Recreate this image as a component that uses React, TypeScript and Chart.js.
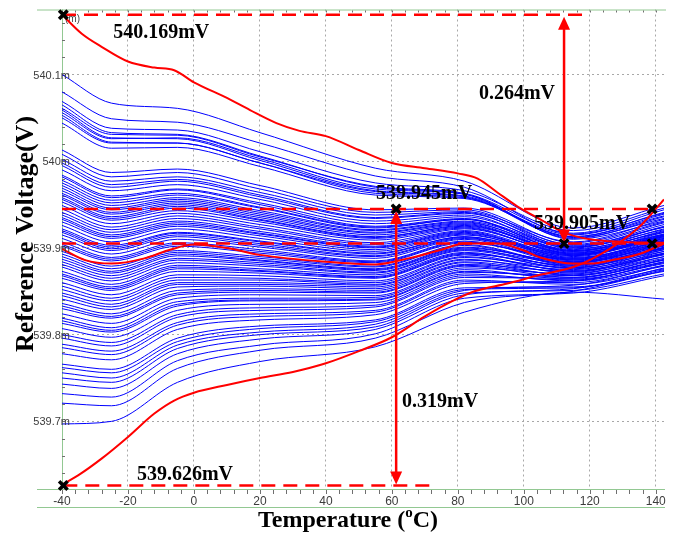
import React, { useEffect, useRef } from 'react';
import { Chart, registerables } from 'chart.js';
Chart.register(...registerables);

// Temperatures at which the Monte-Carlo (blue) curves were read
const TEMPS = [-40, -25, -5, 20, 55, 82, 115, 142.5];

// Blue Monte-Carlo curves, values in mV
const BLUE_CURVES: number[][] = [
  [540.100, 540.067, 540.061, 540.033, 539.992, 539.977, 539.923, 539.949],
  [540.080, 540.049, 540.045, 540.021, 539.983, 539.970, 539.916, 539.940],
  [540.069, 540.038, 540.036, 540.011, 539.975, 539.966, 539.920, 539.946],
  [540.065, 540.033, 540.031, 540.006, 539.970, 539.962, 539.912, 539.934],
  [540.061, 540.031, 540.030, 540.005, 539.971, 539.963, 539.917, 539.944],
  [540.059, 540.027, 540.026, 540.001, 539.966, 539.960, 539.913, 539.937],
  [540.056, 540.026, 540.027, 540.003, 539.968, 539.962, 539.910, 539.931],
  [540.053, 540.022, 540.021, 539.998, 539.963, 539.958, 539.915, 539.941],
  [540.050, 540.021, 540.021, 539.998, 539.965, 539.959, 539.911, 539.936],
  [540.044, 540.015, 540.016, 539.994, 539.961, 539.957, 539.913, 539.939],
  [540.013, 539.987, 539.991, 539.972, 539.944, 539.946, 539.906, 539.930],
  [540.008, 539.982, 539.987, 539.968, 539.941, 539.944, 539.903, 539.924],
  [540.002, 539.977, 539.982, 539.964, 539.938, 539.942, 539.907, 539.933],
  [539.998, 539.973, 539.979, 539.961, 539.935, 539.941, 539.901, 539.921],
  [539.995, 539.970, 539.977, 539.959, 539.934, 539.940, 539.904, 539.929],
  [539.990, 539.966, 539.973, 539.956, 539.931, 539.938, 539.899, 539.918],
  [539.984, 539.960, 539.968, 539.952, 539.928, 539.936, 539.902, 539.927],
  [539.982, 539.958, 539.967, 539.950, 539.925, 539.934, 539.896, 539.916],
  [539.978, 539.955, 539.963, 539.947, 539.924, 539.933, 539.897, 539.915],
  [539.975, 539.952, 539.961, 539.946, 539.923, 539.933, 539.901, 539.924],
  [539.972, 539.949, 539.958, 539.943, 539.921, 539.931, 539.900, 539.925],
  [539.969, 539.946, 539.956, 539.941, 539.920, 539.930, 539.895, 539.913],
  [539.966, 539.944, 539.954, 539.939, 539.918, 539.929, 539.898, 539.922],
  [539.963, 539.941, 539.952, 539.937, 539.917, 539.928, 539.894, 539.914],
  [539.961, 539.939, 539.950, 539.935, 539.915, 539.927, 539.893, 539.911],
  [539.958, 539.936, 539.948, 539.933, 539.913, 539.925, 539.897, 539.919],
  [539.956, 539.934, 539.946, 539.932, 539.912, 539.926, 539.896, 539.920],
  [539.953, 539.932, 539.943, 539.930, 539.911, 539.924, 539.892, 539.910],
  [539.949, 539.928, 539.940, 539.927, 539.909, 539.923, 539.893, 539.912],
  [539.945, 539.924, 539.937, 539.924, 539.906, 539.922, 539.894, 539.918],
  [539.941, 539.921, 539.934, 539.922, 539.904, 539.920, 539.891, 539.915],
  [539.938, 539.918, 539.931, 539.919, 539.902, 539.919, 539.889, 539.908],
  [539.935, 539.915, 539.929, 539.917, 539.901, 539.918, 539.888, 539.909],
  [539.933, 539.913, 539.927, 539.916, 539.900, 539.917, 539.892, 539.916],
  [539.930, 539.911, 539.925, 539.914, 539.898, 539.916, 539.887, 539.906],
  [539.926, 539.907, 539.922, 539.911, 539.896, 539.915, 539.891, 539.914],
  [539.922, 539.903, 539.918, 539.908, 539.894, 539.913, 539.890, 539.913],
  [539.920, 539.901, 539.917, 539.907, 539.893, 539.913, 539.886, 539.905],
  [539.918, 539.899, 539.915, 539.905, 539.891, 539.912, 539.885, 539.903],
  [539.915, 539.897, 539.913, 539.903, 539.890, 539.911, 539.888, 539.911],
  [539.911, 539.893, 539.910, 539.901, 539.888, 539.910, 539.884, 539.902],
  [539.907, 539.889, 539.906, 539.898, 539.885, 539.908, 539.883, 539.900],
  [539.904, 539.887, 539.904, 539.896, 539.884, 539.907, 539.886, 539.908],
  [539.902, 539.885, 539.902, 539.894, 539.883, 539.906, 539.887, 539.909],
  [539.896, 539.879, 539.897, 539.890, 539.879, 539.904, 539.881, 539.900],
  [539.893, 539.876, 539.895, 539.888, 539.878, 539.903, 539.880, 539.899],
  [539.890, 539.873, 539.893, 539.886, 539.876, 539.901, 539.883, 539.905],
  [539.887, 539.871, 539.891, 539.885, 539.875, 539.900, 539.884, 539.907],
  [539.884, 539.868, 539.888, 539.883, 539.874, 539.899, 539.878, 539.896],
  [539.881, 539.865, 539.886, 539.881, 539.872, 539.898, 539.882, 539.905],
  [539.878, 539.862, 539.883, 539.879, 539.871, 539.897, 539.879, 539.898],
  [539.873, 539.858, 539.880, 539.876, 539.869, 539.895, 539.876, 539.894],
  [539.870, 539.855, 539.878, 539.874, 539.867, 539.894, 539.877, 539.900],
  [539.868, 539.853, 539.876, 539.873, 539.866, 539.893, 539.880, 539.903],
  [539.865, 539.851, 539.873, 539.871, 539.865, 539.892, 539.873, 539.892],
  [539.860, 539.846, 539.869, 539.868, 539.862, 539.890, 539.874, 539.893],
  [539.856, 539.842, 539.866, 539.865, 539.860, 539.889, 539.877, 539.901],
  [539.852, 539.839, 539.863, 539.863, 539.858, 539.887, 539.871, 539.890],
  [539.848, 539.835, 539.860, 539.860, 539.857, 539.886, 539.875, 539.898],
  [539.845, 539.832, 539.858, 539.858, 539.855, 539.884, 539.872, 539.894],
  [539.841, 539.829, 539.855, 539.856, 539.853, 539.883, 539.868, 539.886],
  [539.836, 539.824, 539.851, 539.853, 539.851, 539.881, 539.873, 539.896],
  [539.833, 539.821, 539.848, 539.851, 539.849, 539.880, 539.869, 539.888],
  [539.830, 539.819, 539.846, 539.849, 539.848, 539.879, 539.866, 539.884],
  [539.824, 539.813, 539.842, 539.846, 539.845, 539.877, 539.870, 539.893],
  [539.819, 539.808, 539.838, 539.842, 539.843, 539.875, 539.864, 539.882],
  [539.816, 539.805, 539.835, 539.840, 539.841, 539.873, 539.866, 539.886],
  [539.813, 539.803, 539.833, 539.839, 539.840, 539.872, 539.868, 539.890],
  [539.807, 539.797, 539.828, 539.835, 539.837, 539.870, 539.862, 539.880],
  [539.800, 539.791, 539.823, 539.831, 539.834, 539.868, 539.863, 539.883],
  [539.796, 539.787, 539.820, 539.828, 539.832, 539.866, 539.865, 539.887],
  [539.789, 539.781, 539.814, 539.824, 539.828, 539.863, 539.858, 539.876],
  [539.785, 539.777, 539.811, 539.821, 539.826, 539.861, 539.860, 539.879],
  [539.778, 539.771, 539.806, 539.817, 539.823, 539.859, 539.862, 539.884],
  [539.766, 539.760, 539.796, 539.810, 539.817, 539.854, 539.855, 539.873],
  [539.762, 539.756, 539.792, 539.807, 539.815, 539.852, 539.854, 539.875],
  [539.756, 539.750, 539.788, 539.803, 539.812, 539.851, 539.857, 539.880],
  [539.750, 539.745, 539.784, 539.800, 539.809, 539.848, 539.851, 539.870],
  [539.743, 539.738, 539.778, 539.795, 539.806, 539.846, 539.853, 539.877],
  [539.732, 539.728, 539.770, 539.788, 539.801, 539.842, 539.848, 539.868],
  [539.721, 539.718, 539.761, 539.782, 539.796, 539.837, 539.850, 539.874],
  [539.697, 539.700, 539.745, 539.769, 539.786, 539.826, 539.849, 539.841],
];

// Red worst-case / typical curves
const MAX_T = [-40, -34, -28, -20, -12, -6, 0, 10, 17, 25, 32, 40, 50, 60, 70, 80, 86, 92, 98, 105, 112, 120, 130, 142.5];
const MAX_V = [540.169, 540.147, 540.132, 540.115, 540.108, 540.105, 540.091, 540.073, 540.059, 540.044, 540.035, 540.029, 540.013, 539.998, 539.992, 539.986, 539.980, 539.964, 539.948, 539.933, 539.918, 539.910, 539.907, 539.906];
const TYP_T = [-40, -33, -25, -15, -8, 0, 10, 20, 40, 55, 65, 75, 82, 92, 100, 105, 115, 120, 128, 135, 142.5];
const TYP_V = [539.899, 539.886, 539.882, 539.888, 539.897, 539.904, 539.900, 539.892, 539.884, 539.881, 539.888, 539.898, 539.905, 539.905, 539.897, 539.889, 539.882, 539.882, 539.887, 539.893, 539.905];
const MIN_T = [-40, -35, -28, -20, -12, -6, 0, 10, 20, 30, 40, 50, 60, 70, 78, 85, 95, 105, 115, 122, 130, 136, 142.5];
const MIN_V = [539.627, 539.638, 539.657, 539.682, 539.709, 539.724, 539.733, 539.742, 539.750, 539.757, 539.767, 539.781, 539.797, 539.821, 539.838, 539.850, 539.859, 539.869, 539.878, 539.890, 539.909, 539.928, 539.956];

// Axis ticks
const X_TICKS = [-40, -20, 0, 20, 40, 60, 80, 100, 120, 140];
const X_LABELS = ['-40', '-20', '0', '20', '40', '60', '80', '100', '120', '140'];
const Y_TICKS = [539.7, 539.8, 539.9, 540.0, 540.1];
const Y_LABELS = ['539.7m', '539.8m', '539.9m', '540m', '540.1m'];

// Annotation levels (dashed lines)
const LEVEL_V = [540.169, 539.945, 539.905, 539.626];
const LEVEL_FROM = [-40, -40, -40, -39.6];
const LEVEL_TO = [120, 139, 142.5, 71.6];

// Cross markers
const MARK_T = [-39.6, -39.6, 61.3, 112.2, 138.9, 138.9];
const MARK_V = [540.169, 539.626, 539.945, 539.905, 539.945, 539.905];

// Double arrows
const ARROW_T = [112.2, 61.3];
const ARROW_TOP = [540.169, 539.945];
const ARROW_BOTTOM = [539.905, 539.626];

// Text labels
const LABEL_TEXT = ['540.169mV', '539.626mV', '539.945mV', '539.905mV', '0.264mV', '0.319mV'];
const LABEL_T = [-24.5, -17.3, 55.2, 103.1, 86.4, 63.1];
const LABEL_V = [540.142, 539.632, 539.956, 539.922, 540.072, 539.716];

const GREEN = '#92c892';
const SERIF = '"Liberation Serif", "Times New Roman", serif';
const SANS = '"Liberation Sans", Arial, sans-serif';

const decor = {
  id: 'decor',
  beforeDatasetsDraw(chart: any) {
    const { ctx, chartArea: a, scales } = chart;
    const x = scales.x, y = scales.y;
    ctx.save();
    ctx.strokeStyle = GREEN;
    ctx.lineWidth = 1;
    ctx.beginPath();
    ctx.moveTo(37, a.top + 0.5); ctx.lineTo(a.right + 2, a.top + 0.5);
    ctx.moveTo(a.left + 0.5, a.top); ctx.lineTo(a.left + 0.5, a.bottom);
    ctx.moveTo(37, a.bottom + 0.5); ctx.lineTo(a.right + 1, a.bottom + 0.5);
    ctx.moveTo(37, a.bottom + 18.5); ctx.lineTo(a.right + 1, a.bottom + 18.5);
    ctx.stroke();
    ctx.strokeStyle = '#6f6f6f';
    ctx.beginPath();
    for (let t = -40; t <= 142; t += 4) {
      const px = Math.round(x.getPixelForValue(t)) + 0.5;
      ctx.moveTo(px, a.top + 1); ctx.lineTo(px, a.top + 3);
      ctx.moveTo(px, a.bottom + 1); ctx.lineTo(px, a.bottom + 5);
    }
    for (let i = 0; i <= 26; i++) {
      const v = 539.64 + i * 0.02;
      const py = Math.round(y.getPixelForValue(v)) + 0.5;
      ctx.moveTo(a.left, py); ctx.lineTo(a.left + 3, py);
    }
    ctx.stroke();
    ctx.fillStyle = '#444';
    ctx.font = `10px ${SANS}`;
    ctx.textBaseline = 'middle';
    ctx.textAlign = 'left';
    ctx.fillText('(m)', a.left + 3, a.top + 10);
    ctx.restore();
  },
  afterDatasetDraw(chart: any, args: any) {
    if (args.index !== 1) return;
    const { ctx, scales } = chart;
    const x = scales.x, y = scales.y;
    ctx.save();
    ctx.strokeStyle = 'rgb(255,0,0)';
    ctx.fillStyle = 'rgb(255,0,0)';
    ctx.lineWidth = 2.5;
    for (let i = 0; i < ARROW_T.length; i++) {
      const px = x.getPixelForValue(ARROW_T[i]);
      const y1 = y.getPixelForValue(ARROW_TOP[i]) + 2;
      const y2 = y.getPixelForValue(ARROW_BOTTOM[i]) - 1;
      ctx.beginPath();
      ctx.moveTo(px, y1 + 8); ctx.lineTo(px, y2 - 8);
      ctx.stroke();
      ctx.beginPath();
      ctx.moveTo(px, y1); ctx.lineTo(px - 6, y1 + 13); ctx.lineTo(px + 6, y1 + 13); ctx.closePath();
      ctx.fill();
      ctx.beginPath();
      ctx.moveTo(px, y2); ctx.lineTo(px - 6, y2 - 13); ctx.lineTo(px + 6, y2 - 13); ctx.closePath();
      ctx.fill();
    }
    ctx.restore();
  },
  afterDraw(chart: any) {
    const { ctx, chartArea: a, scales } = chart;
    const x = scales.x, y = scales.y;
    ctx.save();
    // y tick labels drawn over the curves, positioned by the y scale
    ctx.fillStyle = '#3c3c3c';
    ctx.font = `11px ${SANS}`;
    ctx.textAlign = 'right';
    ctx.textBaseline = 'middle';
    Y_TICKS.forEach((v, i) => {
      ctx.fillText(Y_LABELS[i], a.left + 8, y.getPixelForValue(v) + 1);
    });
    ctx.fillStyle = '#000';
    ctx.font = `bold 20px ${SERIF}`;
    ctx.textAlign = 'left';
    ctx.textBaseline = 'alphabetic';
    for (let i = 0; i < LABEL_TEXT.length; i++) {
      ctx.fillText(LABEL_TEXT[i], x.getPixelForValue(LABEL_T[i]), y.getPixelForValue(LABEL_V[i]));
    }
    // X title with superscript
    const big = `bold 24px ${SERIF}`;
    const small = `bold 15px ${SERIF}`;
    const p1 = 'Temperature (', p2 = 'o', p3 = 'C)';
    ctx.font = big;
    const w1 = ctx.measureText(p1).width;
    const w3 = ctx.measureText(p3).width;
    ctx.font = small;
    const w2 = ctx.measureText(p2).width;
    const cx = (a.left + a.right) / 2 - 15;
    const base = a.bottom + 38;
    const sx = cx - (w1 + w2 + w3) / 2;
    ctx.font = big;
    ctx.fillText(p1, sx, base);
    ctx.font = small;
    ctx.fillText(p2, sx + w1, base - 10);
    ctx.font = big;
    ctx.fillText(p3, sx + w1 + w2, base);
    // Y title
    ctx.translate(33, 234);
    ctx.rotate(-Math.PI / 2);
    ctx.textAlign = 'center';
    ctx.font = `bold 26px ${SERIF}`;
    ctx.fillText('Reference Voltage(V)', 0, 0);
    ctx.restore();
  },
};

export default function App() {
  const ref = useRef<HTMLCanvasElement>(null);
  useEffect(() => {
    const datasets: any[] = [];
    datasets.push({
      data: MARK_T.map((t, i) => ({ x: t, y: MARK_V[i] })),
      showLine: false,
      pointStyle: 'crossRot',
      pointRadius: 6,
      pointBorderWidth: 3.5,
      pointBorderColor: '#000',
      pointBackgroundColor: '#000',
      borderColor: '#000',
      clip: false,
    });
    LEVEL_V.forEach((v, i) => {
      datasets.push({
        data: [{ x: LEVEL_FROM[i], y: v }, { x: LEVEL_TO[i], y: v }],
        borderColor: 'rgb(255,0,0)',
        borderWidth: 2.5,
        borderDash: [14, 8],
        pointRadius: 0,
      });
    });
    [[MAX_T, MAX_V], [TYP_T, TYP_V], [MIN_T, MIN_V]].forEach(([ts, vs]) => {
      datasets.push({
        data: ts.map((t, i) => ({ x: t, y: vs[i] })),
        borderColor: 'rgb(255,0,0)',
        borderWidth: 2,
        pointRadius: 0,
        cubicInterpolationMode: 'monotone',
      });
    });
    BLUE_CURVES.forEach((vs) => {
      datasets.push({
        data: TEMPS.map((t, i) => ({ x: t, y: vs[i] })),
        borderColor: 'rgb(0,0,255)',
        borderWidth: 1,
        pointRadius: 0,
        cubicInterpolationMode: 'monotone',
      });
    });

    const chart = new Chart(ref.current as HTMLCanvasElement, {
      type: 'line',
      data: { datasets },
      options: {
        animation: false,
        responsive: false,
        devicePixelRatio: 1,
        layout: { padding: { top: 6, right: 10, left: 0, bottom: 0 } },
        plugins: { legend: { display: false }, tooltip: { enabled: false } },
        events: [],
        scales: {
          x: {
            type: 'linear',
            min: -40,
            max: 142.5,
            afterFit: (s: any) => { s.height = 44; },
            afterBuildTicks: (s: any) => { s.ticks = X_TICKS.map((v) => ({ value: v })); },
            ticks: {
              callback: (v: any) => X_LABELS[X_TICKS.indexOf(Number(v))] ?? '',
              font: { family: SANS, size: 12 },
              color: '#3c3c3c',
              padding: 5,
              maxRotation: 0,
              autoSkip: false,
            },
            grid: { color: '#a8a8a8', drawTicks: false, lineWidth: 1 },
            border: { display: false, dash: [2, 3] },
          },
          y: {
            type: 'linear',
            min: 539.622,
            max: 540.175,
            afterFit: (s: any) => { s.width = 62; },
            afterBuildTicks: (s: any) => { s.ticks = Y_TICKS.map((v) => ({ value: v })); },
            ticks: { display: false },
            grid: { color: '#a8a8a8', drawTicks: false, lineWidth: 1 },
            border: { display: false, dash: [2, 3] },
          },
        },
      },
      plugins: [decor],
    } as any);
    return () => chart.destroy();
  }, []);
  return (
    <div style={{ position: 'fixed', left: 0, top: 0, width: 674, height: 533, background: '#fff' }}>
      <canvas ref={ref} width={674} height={533} style={{ display: 'block', width: 674, height: 533 }} />
    </div>
  );
}
